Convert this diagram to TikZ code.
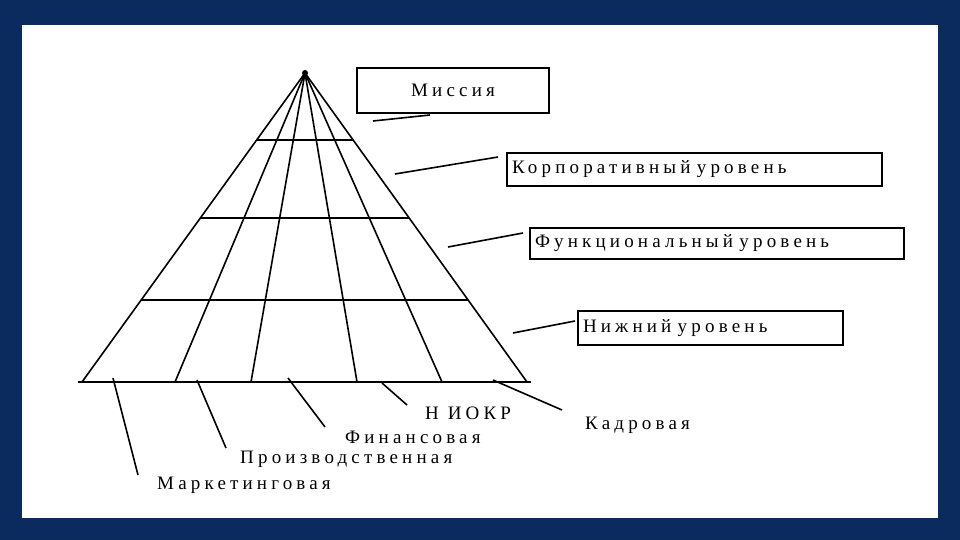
\documentclass[tikz,border=0pt]{standalone}
\usepackage{fontspec}
\setmainfont{Liberation Serif}
\newfontfamily\spaced[LetterSpace=22]{Liberation Serif}
\usetikzlibrary{calc}
\definecolor{navy}{HTML}{0B2A5E}
\begin{document}
\begin{tikzpicture}[x=1pt,y=-1pt,
  ln/.style={line width=1.6pt,black},
  bx/.style={draw,line width=1.6pt,inner sep=0pt,font=\spaced\fontsize{19}{21}\selectfont},
  lb/.style={font=\spaced\fontsize{19}{21}\selectfont,inner sep=0pt,anchor=west}]
\fill[navy] (0,0) rectangle (960,540);
\fill[white] (22,25) rectangle (938,518);
\useasboundingbox (0,0) rectangle (960,540);
\coordinate (A) at (305,73);
\coordinate (L) at (82,382);
\coordinate (R) at (527,382);
\draw[ln] (L) -- (A) -- (R);
\draw[ln] (78,382) -- (531,382);
\foreach \x in {175,251,357,442} \draw[ln] (A) -- (\x,382);
\foreach \y in {140,218,300} {
  \draw[ln] ($(A)!{(\y-73)/309}!(L)$) -- ($(A)!{(\y-73)/309}!(R)$);
}
\fill (A) circle (3);
% boxes
\node[bx,minimum width=192,minimum height=45] (m) at (453,90.5) {Миссия};
\node[bx,minimum width=375,minimum height=33,text width=365,align=left] (k) at (694.5,169.5) {Корпоративный уровень};
\node[bx,minimum width=374,minimum height=31,text width=364,align=left] (f) at (717,243.5) {Функциональный уровень};
\node[bx,minimum width=265,minimum height=34,text width=255,align=left] (n) at (710.5,328) {Нижний уровень};
\coordinate (m1) at (373,121); \coordinate (m2) at (430,115);
\coordinate (k1) at (395,174); \coordinate (k2) at (498,157);
\coordinate (f1) at (448,247); \coordinate (f2) at (523,233);
\coordinate (n1) at (513,333); \coordinate (n2) at (575,321);
\draw[ln] (m1)--(m2); \draw[ln] (k1)--(k2); \draw[ln] (f1)--(f2); \draw[ln] (n1)--(n2);
% bottom labels
\node[lb] (t1) at (425,413) {Н ИОКР};
\node[lb] (t2) at (345,437) {Финансовая};
\node[lb] (t3) at (240,459) {Производственная};
\node[lb] (t4) at (157,485) {Маркетинговая};
\node[lb] (t5) at (585,425) {Кадровая};
\coordinate (b1) at (113,378); \coordinate (e1) at (138,475);
\coordinate (b2) at (197,380); \coordinate (e2) at (226,448);
\coordinate (b3) at (288,378); \coordinate (e3) at (325,427);
\coordinate (b4) at (382,383); \coordinate (e4) at (407,405);
\coordinate (b5) at (493,380); \coordinate (e5) at (562,410);
\foreach \i in {1,...,5} \draw[ln] (b\i)--(e\i);
\end{tikzpicture}
\end{document}
